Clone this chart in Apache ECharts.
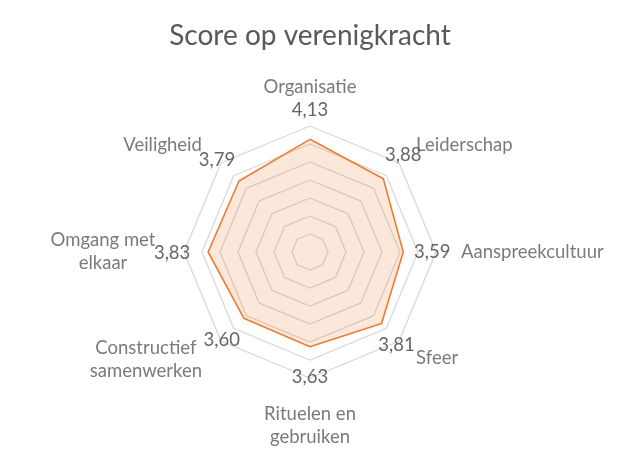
<!DOCTYPE html>
<html>
<head>
<meta charset="utf-8">
<script src="https://cdn.jsdelivr.net/npm/echarts@6/dist/echarts.min.js"></script>
<style>html,body{margin:0;padding:0;background:#fff;}#c{width:620px;height:451px;}</style>
</head>
<body>
<div id="c"></div>
<script>
// Categories in clockwise order starting from the top
var categories = ['Organisatie', 'Leiderschap', 'Aanspreekcultuur', 'Sfeer', 'Rituelen en\ngebruiken', 'Constructief\nsamenwerken', 'Omgang met\nelkaar', 'Veiligheid'];
var scores = [4.13, 3.88, 3.59, 3.81, 3.63, 3.60, 3.83, 3.79];
var axisMin = 1;
var axisMax = 4.5;
var splitCount = 7;
var title = 'Score op verenigkracht';

var FONT = 'Lato';
var CENTER = [310, 252];
var RADIUS = 126;

// per-category label styling (offsets in px)
var valueOffsets = [[0,-29],[20,-24],[29,0],[15,22],[0,30],[-22,22],[-36,1],[-22,-21]];
var nameStyles = [
  {align:'center', offset:[0,-39]},
  {align:'left', offset:[17,-18]},
  {align:'left', offset:[25,0]},
  {align:'left', offset:[17,17]},
  {align:'center', offset:[0,48]},
  {align:'center', offset:[-75,18]},
  {align:'center', offset:[-81,0]},
  {align:'right', offset:[-19,-18]}
];

// radar in ECharts goes counter-clockwise: reorder
var ccwIdx = categories.map(function(_, i){ return (categories.length - i) % categories.length; });
var indicators = ccwIdx.map(function(i){ return {name: categories[i], min: axisMin, max: axisMax}; });
var radarValues = ccwIdx.map(function(i){ return scores[i]; });

var valueLabelData = scores.map(function(v, i){
  return {value: [v, i], label: {offset: valueOffsets[i]}};
});
var nameLabelData = categories.map(function(c, i){
  return {value: [axisMax, i], name: c, label: {align: nameStyles[i].align, offset: nameStyles[i].offset}};
});

var chart = echarts.init(document.getElementById('c'), null, {renderer: 'canvas'});
chart.setOption({
  backgroundColor: '#ffffff',
  animation: false,
  title: {
    text: title, left: 'center', top: 17,
    textStyle: {fontFamily: FONT, fontSize: 28, fontWeight: 'normal', color: '#595959'}
  },
  radar: {
    center: CENTER, radius: RADIUS, startAngle: 90, shape: 'polygon',
    splitNumber: splitCount,
    indicator: indicators,
    axisName: {show: false},
    axisLine: {show: false},
    axisTick: {show: false},
    axisLabel: {show: false},
    splitArea: {show: false},
    splitLine: {lineStyle: {color: '#d9d9d9', width: 1.3}}
  },
  polar: {center: CENTER, radius: RADIUS},
  angleAxis: {type: 'category', data: categories, startAngle: 90, clockwise: true, boundaryGap: false, show: false},
  radiusAxis: {type: 'value', min: axisMin, max: axisMax, show: false},
  series: [
    {
      type: 'radar',
      symbol: 'none',
      lineStyle: {color: '#ED7D31', width: 1.6},
      areaStyle: {color: 'rgba(237,125,49,0.25)'},
      data: [{value: radarValues}]
    },
    {
      type: 'scatter', coordinateSystem: 'polar', symbolSize: 0, silent: true,
      data: valueLabelData,
      label: {
        show: true, position: 'inside', color: '#404040', fontFamily: FONT, fontSize: 18.5,
        formatter: function(p){ return p.value[0].toFixed(2).replace('.', ','); }
      }
    },
    {
      type: 'scatter', coordinateSystem: 'polar', symbolSize: 0, silent: true,
      data: nameLabelData,
      label: {
        show: true, position: 'inside', color: '#595959', fontFamily: FONT, fontSize: 18.5, lineHeight: 23,
        formatter: function(p){ return p.name; }
      }
    }
  ]
});
</script>
</body>
</html>
